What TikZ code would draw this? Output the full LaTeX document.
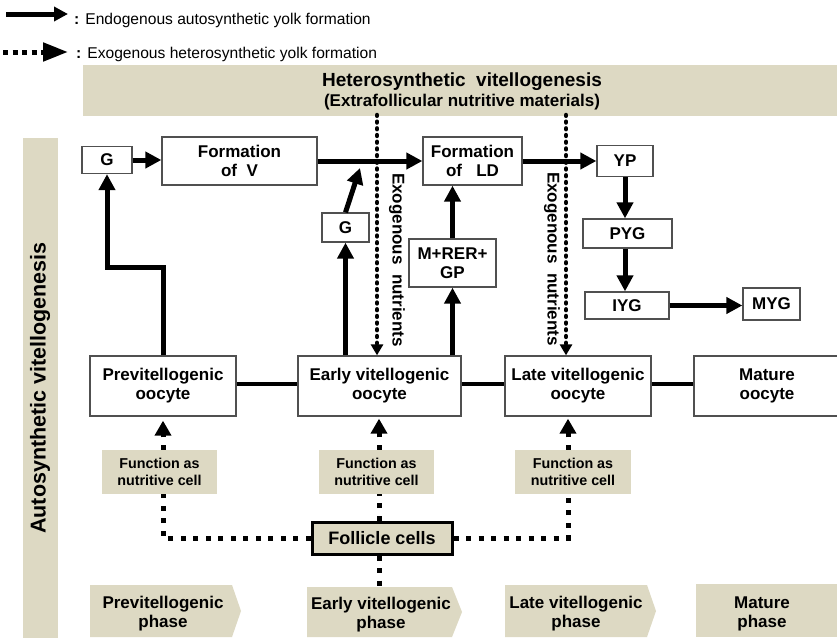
\documentclass[tikz,border=0pt]{standalone}
\usepackage{fontspec}
\setmainfont{Liberation Sans}
\usetikzlibrary{arrows.meta}
\definecolor{tanbg}{RGB}{221,217,195}
\definecolor{bord}{RGB}{80,80,80}
\begin{document}
\begin{tikzpicture}[x=1pt,y=-1pt,
  box/.style={draw=bord, line width=1.3pt, fill=white, inner sep=0pt, align=center, font=\bfseries\fontsize{17}{19}\selectfont},
  tanbox/.style={fill=tanbg, inner sep=0pt},
  lbl/.style={font=\bfseries\fontsize{17}{19}\selectfont, align=center, inner sep=0pt},
  funbox/.style={fill=tanbg, inner sep=0pt, align=center, minimum width=115pt, minimum height=44pt, font=\bfseries\fontsize{14.3}{17}\selectfont},
  bigarrow/.style={line width=5pt, -{Triangle[length=16pt,width=16pt]}},
  link/.style={line width=3.5pt},
  exo/.style={line width=4.5pt, line cap=round, dash pattern=on 0.8pt off 5.9pt, -{Triangle[length=11pt,width=12pt]}},
  fdot/.style={line width=5pt, dash pattern=on 5pt off 7.5pt},
  fdotarrow/.style={fdot, -{Triangle[length=15pt,width=16pt]}},
  phase/.style={fill=tanbg},
]
\useasboundingbox (0,0) rectangle (837,637);
\clip (0,0) rectangle (837,637);

% legend
\coordinate (l1a) at (6,14);
\coordinate (l1b) at (68,14);
\draw[line width=5pt, -{Triangle[length=14pt,width=14pt]}] (l1a) -- (l1b);
\node[anchor=west, font=\fontsize{15.6}{15.6}\selectfont, inner sep=0pt] (leg1) at (74,20) {\textbf{:}\hspace{6pt}Endogenous autosynthetic yolk formation};
\coordinate (l2a) at (3,52);
\coordinate (l2b) at (68,52);
\draw[line width=5pt, dash pattern=on 5pt off 4.5pt, -{Triangle[length=25pt,width=18pt]}] (l2a) -- (l2b);
\node[anchor=west, font=\fontsize{15.6}{15.6}\selectfont, inner sep=0pt] (leg2) at (76,54) {\textbf{:}\hspace{6pt}Exogenous heterosynthetic yolk formation};

% banners
\node[tanbox, minimum width=754pt, minimum height=51pt, anchor=north west] (hetero) at (83,65) {};
\node[lbl, font=\bfseries\fontsize{19}{19}\selectfont] (het1) at (462,82) {Heterosynthetic\ \ vitellogenesis};
\node[lbl] (het2) at (462,102) {(Extrafollicular\ nutritive materials)};
\node[tanbox, minimum width=35pt, minimum height=500pt, anchor=north west] (autob) at (23,138) {};
\node[lbl, rotate=90, font=\bfseries\fontsize{21.5}{21.5}\selectfont] (autot) at (40,388) {Autosynthetic vitellogenesis};

% boxes
\node[box, minimum width=50pt, minimum height=27pt] (g1) at (107,160) {G};
\node[box, minimum width=155pt, minimum height=48pt] (formv) at (239.5,161) {Formation\\of\ \ V};
\node[box, minimum width=99pt, minimum height=48pt] (ld) at (472.5,161) {Formation\\of\ \ \ LD};
\node[box, minimum width=47pt, minimum height=29pt] (g2) at (345.5,227.5) {G};
\node[box, minimum width=87pt, minimum height=48pt] (mrer) at (452.5,263) {M+RER+\\GP};
\node[box, minimum width=56pt, minimum height=31pt] (yp) at (625,161) {YP};
\node[box, minimum width=89pt, minimum height=29pt] (pyg) at (627.5,233.5) {PYG};
\node[box, minimum width=84pt, minimum height=27pt] (iyg) at (627,305.5) {IYG};
\node[box, minimum width=57pt, minimum height=32pt] (myg) at (771.5,304) {MYG};

% oocytes
\node[box, minimum width=146pt, minimum height=60pt] (prev) at (163,386) {Previtellogenic\\oocyte};
\node[box, minimum width=163pt, minimum height=60pt] (early) at (379.5,386) {Early vitellogenic\\oocyte};
\node[box, minimum width=146pt, minimum height=60pt] (late) at (578,386) {Late vitellogenic\\oocyte};
\node[box, minimum width=146pt, minimum height=60pt] (mature) at (767,386) {Mature\\oocyte};
\draw[link] ([yshift=2pt]prev.east) -- ([yshift=2pt]early.west);
\draw[link] ([yshift=2pt]early.east) -- ([yshift=2pt]late.west);
\draw[link] ([yshift=2pt]late.east) -- ([yshift=2pt]mature.west);

% endogenous arrows
\draw[bigarrow] (g1.east) -- (formv.west |- g1.east);
\draw[bigarrow] (formv.east) -- (ld.west);
\draw[bigarrow] (ld.east) -- (yp.west);
\coordinate (join) at (360,168);
\draw[bigarrow] (g2.north) -- (join);
\draw[bigarrow] (early.north -| g2.south) -- (g2.south);
\coordinate (bend) at (163,267);
\draw[bigarrow] (prev.north) -- (bend) -| (g1.south);
\draw[bigarrow] (early.north -| mrer.south) -- (mrer.south);
\draw[bigarrow] (mrer.north) -- (mrer.north |- ld.south);
\draw[bigarrow] (yp.south) -- (yp.south |- pyg.north);
\draw[bigarrow] (yp.south |- pyg.south) -- (yp.south |- iyg.north);
\draw[bigarrow] (iyg.east) -- (myg.west |- iyg.east);

% exogenous
\coordinate (exo1) at (377,115);
\draw[exo] (exo1) -- (exo1 |- early.north);
\coordinate (exo2) at (566,115);
\draw[exo] (exo2) -- (exo2 |- late.north);
\node[lbl, rotate=-90] (exot1) at (397,260) {Exogenous\ \ nutrients};
\node[lbl, rotate=-90] (exot2) at (552,259) {Exogenous\ \ nutrients};

% function boxes & follicle cells
\node[funbox] (f1) at (159.5,472) {Function as\\nutritive cell};
\node[funbox] (f2) at (376.5,472) {Function as\\nutritive cell};
\node[funbox, minimum width=116pt] (f3) at (573,472) {Function as\\nutritive cell};
\node[draw=black, line width=3pt, fill=tanbg, minimum width=140pt, minimum height=32pt, inner sep=0pt, font=\bfseries\fontsize{18}{18}\selectfont] (foll) at (382,538) {Follicle cells};

\coordinate (px) at (163,0);
\coordinate (ex) at (379,0);
\coordinate (lx) at (568,0);
\coordinate (ph2top) at (379,587);
\draw[fdot] (foll.west) -| (px |- f1.south);
\draw[fdotarrow, shorten >=4pt] (px |- f1.north) -- (px |- prev.south);
\draw[fdot] (ex |- foll.north) -- (ex |- f2.south);
\draw[fdotarrow, shorten >=2pt] (ex |- f2.north) -- (ex |- early.south);
\draw[fdot] (ex |- foll.south) -- (ph2top);
\draw[fdot] (foll.east) -| (lx |- f3.south);
\draw[fdotarrow, shorten >=2pt] (lx |- f3.north) -- (lx |- late.south);

% phases
\fill[phase] (90,585) -- (232,585) -- (241,611) -- (232,637) -- (90,637) -- cycle;
\node[lbl] (ph1) at (163,614) {Previtellogenic\\phase};
\fill[phase] (307,587) -- (452,587) -- (462,612) -- (452,637) -- (307,637) -- cycle;
\node[lbl] (ph2) at (381,615) {Early vitellogenic\\phase};
\fill[phase] (505,585) -- (647,585) -- (656,611) -- (647,637) -- (505,637) -- cycle;
\node[lbl] (ph3) at (576,614) {Late vitellogenic\\phase};
\fill[phase] (696,584) -- (845,584) -- (845,637) -- (696,637) -- cycle;
\node[lbl] (ph4) at (762,614) {Mature\\phase};
\end{tikzpicture}
\end{document}
